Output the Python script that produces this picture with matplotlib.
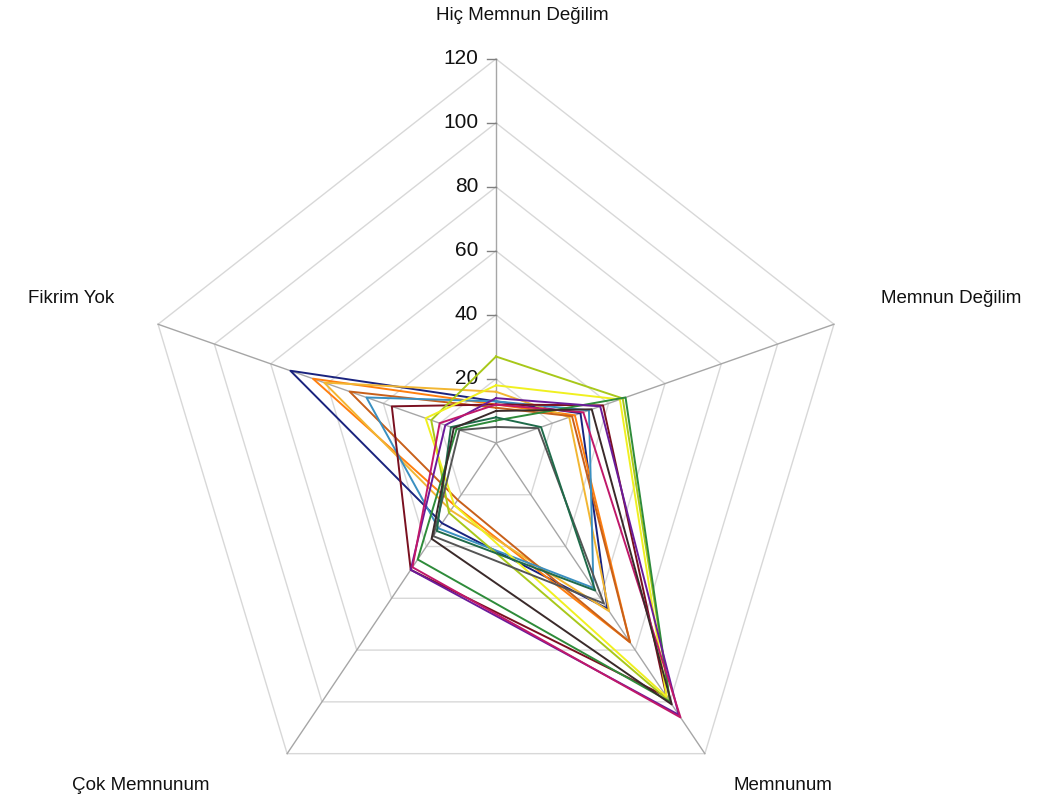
import numpy as np
import matplotlib
matplotlib.use("Agg")
import matplotlib.pyplot as plt

categories = ["Hiç Memnun Değilim", "Memnun Değilim", "Memnunum", "Çok Memnunum", "Fikrim Yok"]
tick_values = [20, 40, 60, 80, 100, 120]
tick_labels = ["20", "40", "60", "80", "100", "120"]

# series values in category order
s_navy    = [13, 30, 64, 31, 73]
s_orange  = [12, 28, 77, 24, 65]
s_gold    = [16, 26, 65, 26, 61]
s_brown   = [11, 27, 77, 22, 52]
s_teal    = [13, 33, 56, 33, 46]
s_maroon  = [12, 38, 98, 49, 37]
s_lime    = [27, 45, 100, 27, 23]
s_yellow  = [18, 44, 98, 24, 25]
s_green   = [7, 46, 100, 45, 14]
s_purple  = [14, 37, 105, 49, 18]
s_magenta = [12, 31, 106, 48, 20]
s_dark    = [5, 15, 62, 36, 13]
s_darkgrn = [8, 16, 57, 34, 16]
s_black   = [10, 34, 101, 37, 15]

series = [s_navy, s_orange, s_gold, s_brown, s_teal, s_maroon, s_lime, s_yellow,
          s_green, s_purple, s_magenta, s_dark, s_darkgrn, s_black]
colors = ["#1a237e", "#ff7f0e", "#f2b632", "#c8601a", "#3a8fc0", "#7a1020", "#a8c81a",
          "#f0f020", "#2e8b3a", "#6a1b9a", "#c0186a", "#555555", "#1f6b4a", "#3a2a2a"]

n = len(categories)
theta = np.arange(n) * 2 * np.pi / n

def xy(vals):
    v = np.asarray(vals, dtype=float)
    return v * np.sin(theta), v * np.cos(theta)

fig = plt.figure(figsize=(10.53, 8.07), dpi=100)
ax = fig.add_axes([0, 0, 1, 1])
ax.set_xlim(-167.5, 188.1)
ax.set_ylim(-113.75, 138.4)
ax.axis("off")

# grid polygons
rmax = 120
for r in tick_values:
    gx, gy = xy([r] * n)
    ax.plot(np.append(gx, gx[0]), np.append(gy, gy[0]), color="#d8d8d8", lw=1.0, zorder=1)
# spokes
for t in theta:
    ax.plot([0, rmax * np.sin(t)], [0, rmax * np.cos(t)], color="#a6a6a6", lw=1.0, zorder=1)

# tick marks and labels on the top axis
for v, lab in zip(tick_values, tick_labels):
    ax.plot([-3.2, 0], [v, v], color="#808080", lw=1.0, zorder=2)
    ax.text(-6.0, v, lab, ha="right", va="center", fontsize=15,
            family="Liberation Sans", color="#111111")

# series
for vals, c in zip(series, colors):
    px, py = xy(vals)
    ax.plot(np.append(px, px[0]), np.append(py, py[0]), color=c, lw=1.4, zorder=3)

# category labels
label_pos = [(9.0, 133.5), (153.6, 45.0), (97.0, -107.0), (-120.0, -107.0), (-143.5, 45.0)]
for (lx, ly), lab in zip(label_pos, categories):
    ax.text(lx, ly, lab, ha="center", va="center", fontsize=13.5,
            family="Liberation Sans", color="#111111")

fig.savefig("out.png", dpi=100, facecolor="white")
